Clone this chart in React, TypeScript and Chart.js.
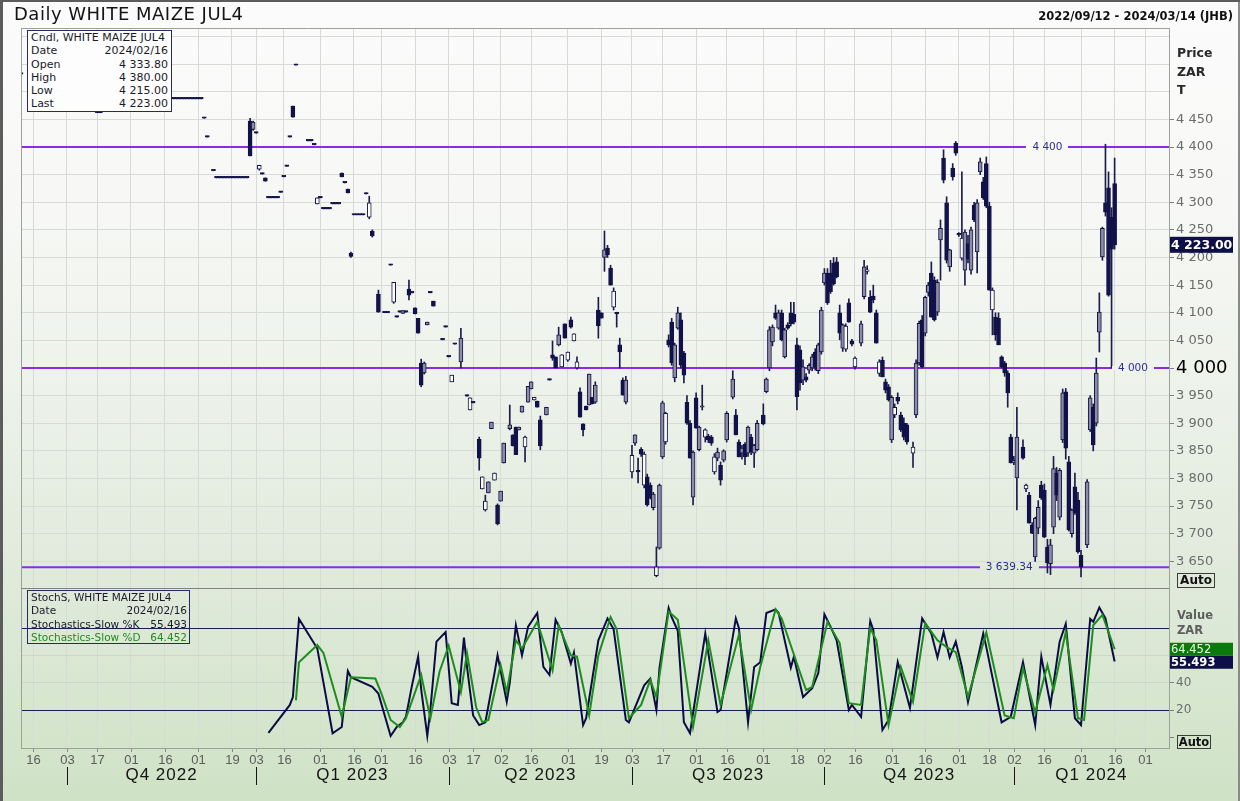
import React, { useEffect, useRef } from 'react';
import { Chart, registerables } from 'chart.js';

Chart.register(...registerables);

// ---------- calendar (trading sessions, JSE) ----------
const firstSession = '2022-09-12';
const lastSession = '2024-03-14';
const marketHolidays = [
  '2022-12-16', '2022-12-26', '2022-12-27', '2023-01-02', '2023-03-21', '2023-04-07',
  '2023-04-10', '2023-04-27', '2023-05-01', '2023-06-16', '2023-08-09', '2023-09-25',
  '2023-12-15', '2023-12-25', '2023-12-26', '2024-01-01',
];
const tickDaysOfMonth = [1, 16];
const quarterMonths = [1, 4, 7, 10];
const axisLastSession = 375.8;

// ---------- candles (session number counted from 2022-09-12) ----------
const candleDay = [
  0, 25, 26, 50, 51, 52, 53, 54, 55, 56,
  57, 58, 59, 60, 61, 63, 64, 65, 66, 67,
  68, 69, 70, 71, 72, 73, 74, 75, 76, 77,
  78, 79, 80, 81, 82, 83, 84, 85, 86, 87,
  88, 89, 90, 94, 95, 96, 97, 98, 99, 100,
  101, 102, 103, 104, 105, 106, 107, 108, 109, 110,
  111, 112, 113, 114, 115, 117, 119, 120, 121, 122,
  123, 124, 125, 126, 127, 128, 129, 130, 131, 132,
  133, 134, 135, 138, 139, 140, 141, 142, 144, 146,
  147, 148,
  150, 151, 152, 153, 154, 155, 156, 157, 158, 160,
  161, 162, 163, 164, 165, 166, 167, 168, 169, 170,
  172, 173, 174, 175, 176, 177, 178, 179, 180, 181,
  182, 183, 184, 185, 186, 187, 188, 189, 190, 191,
  192, 193, 194, 195, 196, 197, 198, 200, 201, 202,
  203, 204, 205, 206, 207, 208, 209, 210, 211, 212,
  213, 214, 215, 216, 217, 218, 219, 220, 221, 222,
  223, 224, 225, 226, 227, 228, 229, 230, 231, 233,
  234, 235, 236, 237, 238, 239, 240, 241, 243, 244,
  245, 246, 247, 248, 249, 250, 251, 252, 253, 254,
  255, 256, 257, 258, 259, 260, 261, 262, 263, 264,
  265, 266, 267, 268, 269, 270, 271, 272, 273, 275,
  276, 277, 278, 279, 280, 281, 282, 283, 284, 285,
  286, 287, 288, 289, 290, 292, 293, 294, 295, 296,
  297, 298, 299, 300, 301, 302, 303, 304, 305, 306,
  307, 308, 309, 310, 311, 312, 313, 314, 315, 316,
  317, 318, 319, 320, 321, 322, 323, 324, 325, 326,
  328, 329, 330, 331, 332, 333, 334, 335, 336, 337,
  338, 339, 340, 341, 342, 343, 344, 345, 346, 347,
  349, 350, 351, 352, 353, 354, 355, 356, 357, 358,
];
const candleOpen = [
  4532, 4462, 4462, 4487, 4487, 4487, 4487, 4487, 4487, 4487,
  4487, 4487, 4487, 4452, 4418, 4357, 4344, 4344, 4344, 4344,
  4344, 4344, 4344, 4344, 4344, 4344, 4344, 4447, 4432, 4425,
  4360, 4351, 4344, 4308, 4308, 4308, 4308, 4318, 4346, 4365,
  4418, 4474, 4548, 4411, 4411, 4404, 4297, 4308, 4288, 4288,
  4288, 4297, 4297, 4297, 4353, 4335, 4324, 4208, 4277, 4277,
  4277, 4277, 4315, 4273, 4248, 4134, 4100, 4100, 4186, 4119,
  4092, 4101, 4099, 4101, 4143, 4136, 4109, 4090, 4009, 3991,
  4078, 4136, 4121, 4051, 4074, 4020, 3975, 4043, 4011, 3949,
  3924, 3937,
  3871, 3781, 3743, 3774, 3890, 3797, 3752, 3759, 3828, 3890,
  3879, 3893, 3888, 3920, 3857, 3938, 3962, 3942, 3940, 3906,
  3915, 3978, 4024, 4020, 4042, 4002, 4080, 4014, 4087, 4049,
  4000, 3957, 3899, 3931, 3933, 3947, 3938, 4105, 4100, 4200,
  4217, 4181, 4110, 4100, 4042, 3978, 3938, 3812, 3864, 3815,
  3853, 3788, 3803, 3788, 3747, 3624, 3674, 3839, 3866, 4051,
  4083, 3982, 4072, 4087, 4027, 3938, 3900, 3766, 3946, 3852,
  3929, 3875, 3877, 3875, 3812, 3837, 3824, 3833, 3870, 3947,
  3915, 3866, 3846, 3862, 3846, 3875, 3846, 3852, 3915, 3957,
  4000, 4047, 4100, 4072, 4100, 4020, 4078, 4100, 4097, 4042,
  4033, 3978, 3984, 3996, 4000, 4029, 3995, 4029, 4154, 4172,
  4172, 4190, 4192, 4100, 4036, 4034, 4118, 4049, 4002, 4045,
  4129, 4175, 4128, 4130, 4100, 3990, 4014, 3975, 3966, 3870,
  3915, 3947, 3915, 3900, 3897, 3846, 3915, 4009, 4087, 4063,
  4137, 4172, 4159, 4101, 4232, 4380, 4299, 4183, 4362, 4407,
  4241, 4199, 4177, 4225, 4177, 4295, 4210, 4355, 4337, 4370,
  4293, 4105, 4092, 4090, 4020, 4009, 3991, 3875, 3828, 3801,
  3857, 3781, 3770, 3716, 3658, 3710, 3788, 3779, 3676, 3646,
  3712, 3810, 3730, 3870, 3957, 3830, 3700, 3785, 3761, 3661,
  3680, 3888, 3929, 3900, 4065, 4201, 4299, 4326, 4273, 4333.8,
];
const candleHigh = [
  4532, 4462, 4462, 4487, 4487, 4487, 4487, 4487, 4487, 4487,
  4487, 4487, 4487, 4452, 4418, 4357, 4344, 4344, 4344, 4344,
  4344, 4344, 4344, 4344, 4344, 4344, 4344, 4452, 4447, 4425,
  4367, 4351, 4344, 4308, 4308, 4308, 4308, 4318, 4346, 4365,
  4418, 4474, 4548, 4411, 4411, 4404, 4308, 4308, 4288, 4288,
  4288, 4297, 4297, 4297, 4353, 4335, 4324, 4210, 4277, 4277,
  4277, 4277, 4315, 4311, 4250, 4141, 4100, 4100, 4186, 4155,
  4092, 4101, 4104, 4101, 4159, 4136, 4109, 4090, 4016, 4011,
  4083, 4136, 4121, 4051, 4074, 4020, 3987, 4043, 4072, 3949,
  3946, 3937,
  3875, 3803, 3770, 3794, 3902, 3810, 3754, 3777, 3864, 3933,
  3879, 3893, 3893, 3931, 3877, 3967, 3975, 3947, 3940, 3913,
  3929, 3978, 4049, 4020, 4074, 4024, 4080, 4029, 4092, 4062,
  4020, 3964, 3899, 3931, 3989, 3947, 3975, 4128, 4100, 4248,
  4222, 4186, 4145, 4101, 4054, 3982, 3985, 3860, 3879, 3837,
  3856, 3848, 3808, 3792, 3775, 3676, 3790, 3940, 3920, 4060,
  4090, 4045, 4110, 4100, 4030, 3950, 3905, 3850, 3955, 3895,
  3969, 3890, 3880, 3878, 3845, 3855, 3830, 3852, 3921, 3995,
  3925, 3870, 3860, 3865, 3895, 3880, 3862, 3905, 3935, 3982,
  4075, 4078, 4114, 4105, 4105, 4072, 4082, 4119, 4119, 4054,
  4040, 4015, 3990, 4008, 4025, 4035, 4045, 4110, 4180, 4180,
  4195, 4200, 4200, 4114, 4080, 4080, 4125, 4052, 4020, 4085,
  4195, 4185, 4140, 4150, 4105, 4015, 4020, 3980, 3970, 3950,
  3935, 3955, 3920, 3910, 3900, 3866, 4015, 4085, 4095, 4130,
  4155, 4192, 4165, 4160, 4268, 4395, 4310, 4215, 4370, 4410,
  4245, 4355, 4250, 4240, 4255, 4300, 4305, 4380, 4345, 4382,
  4300, 4145, 4100, 4100, 4022, 4012, 3995, 3880, 3840, 3929,
  3870, 3790, 3775, 3720, 3730, 3760, 3795, 3790, 3690, 3690,
  3840, 3820, 3818, 3962, 3963, 3840, 3745, 3810, 3775, 3670,
  3798, 3950, 3935, 4018, 4136, 4255, 4405, 4355, 4290, 4380,
];
const candleLow = [
  4532, 4462, 4462, 4487, 4487, 4487, 4487, 4487, 4487, 4487,
  4487, 4487, 4487, 4452, 4418, 4357, 4344, 4344, 4344, 4344,
  4344, 4344, 4344, 4344, 4344, 4344, 4344, 4384, 4430, 4425,
  4358, 4351, 4338, 4308, 4308, 4308, 4308, 4318, 4346, 4365,
  4418, 4454, 4548, 4411, 4411, 4404, 4297, 4308, 4288, 4288,
  4288, 4297, 4297, 4297, 4346, 4335, 4317, 4200, 4277, 4277,
  4277, 4277, 4315, 4270, 4237, 4101, 4100, 4100, 4186, 4117,
  4092, 4101, 4099, 4101, 4123, 4136, 4098, 4063, 3966, 3989,
  4078, 4136, 4112, 4051, 4074, 4020, 3975, 4043, 4000, 3949,
  3924, 3937,
  3815, 3781, 3741, 3774, 3890, 3797, 3716, 3759, 3828, 3888,
  3859, 3843, 3888, 3920, 3830, 3938, 3962, 3942, 3929, 3852,
  3915, 3978, 4014, 4000, 4040, 4002, 4054, 4012, 4072, 4049,
  3998, 3911, 3877, 3924, 3933, 3935, 3936, 4054, 4090, 4175,
  4200, 4150, 4105, 4074, 4000, 3951, 3935, 3801, 3860, 3792,
  3840, 3783, 3750, 3763, 3743, 3622, 3672, 3836, 3862, 4038,
  4005, 3975, 4070, 4000, 3973, 3898, 3837, 3752, 3891, 3850,
  3924, 3866, 3865, 3860, 3808, 3832, 3788, 3830, 3866, 3944,
  3879, 3839, 3835, 3825, 3840, 3843, 3820, 3850, 3897, 3955,
  3995, 4040, 4088, 4070, 4049, 4018, 4070, 4076, 4080, 3924,
  3960, 3970, 3975, 3990, 3995, 3996, 3990, 4025, 4150, 4115,
  4135, 4150, 4163, 4051, 4030, 4030, 4083, 4040, 3998, 4040,
  4125, 4170, 4100, 4118, 4045, 3985, 3984, 3955, 3940, 3865,
  3910, 3935, 3885, 3870, 3862, 3820, 3910, 4005, 4000, 4058,
  4130, 4092, 4085, 4095, 4159, 4335, 4190, 4175, 4340, 4385,
  4238, 4195, 4150, 4190, 4170, 4265, 4172, 4350, 4305, 4290,
  4141, 4060, 4050, 4042, 4000, 3985, 3929, 3828, 3825, 3743,
  3835, 3776, 3719, 3700, 3650, 3700, 3762, 3693, 3629, 3626,
  3700, 3760, 3725, 3865, 3835, 3705, 3694, 3735, 3665, 3622,
  3675, 3885, 3850, 3895, 4029, 4195, 4275, 4130, 4000, 4215,
];
const candleClose = [
  4532, 4462, 4462, 4487, 4487, 4487, 4487, 4487, 4487, 4487,
  4487, 4487, 4487, 4452, 4418, 4357, 4344, 4344, 4344, 4344,
  4344, 4344, 4344, 4344, 4344, 4344, 4344, 4384, 4445, 4425,
  4367, 4351, 4338, 4308, 4308, 4308, 4308, 4318, 4346, 4365,
  4418, 4454, 4548, 4411, 4411, 4404, 4308, 4308, 4288, 4288,
  4288, 4297, 4297, 4297, 4346, 4335, 4317, 4202, 4277, 4277,
  4277, 4277, 4315, 4299, 4239, 4101, 4100, 4100, 4186, 4155,
  4092, 4101, 4104, 4101, 4132, 4136, 4098, 4063, 3969, 4009,
  4083, 4136, 4112, 4051, 4074, 4020, 3987, 4043, 4054, 3949,
  3946, 3937,
  3837, 3803, 3759, 3794, 3902, 3810, 3718, 3777, 3864, 3897,
  3859, 3843, 3893, 3931, 3875, 3967, 3975, 3947, 3929, 3859,
  3929, 3978, 4018, 4000, 4060, 4024, 4054, 4029, 4074, 4062,
  4011, 3911, 3888, 3924, 3989, 3935, 3969, 4076, 4090, 4214,
  4205, 4150, 4139, 4098, 4029, 3951, 3978, 3842, 3879, 3812,
  3844, 3844, 3752, 3765, 3772, 3640, 3788, 3937, 3918, 4042,
  4009, 4042, 4100, 4005, 3987, 3900, 3837, 3848, 3891, 3893,
  3931, 3888, 3870, 3864, 3839, 3848, 3797, 3850, 3918, 3980,
  3879, 3839, 3855, 3839, 3893, 3848, 3860, 3900, 3899, 3980,
  4069, 4074, 4090, 4100, 4051, 4069, 4072, 4080, 4083, 3948,
  3973, 4002, 3978, 4005, 4020, 4002, 4042, 4105, 4172, 4118,
  4138, 4152, 4165, 4063, 4078, 4076, 4083, 4043, 4018, 4080,
  4183, 4177, 4101, 4123, 4045, 4011, 3984, 3960, 3942, 3947,
  3929, 3940, 3888, 3875, 3866, 3857, 4009, 4081, 4002, 4128,
  4150, 4092, 4087, 4155, 4253, 4340, 4195, 4214, 4346, 4389,
  4241, 4235, 4246, 4197, 4250, 4268, 4299, 4373, 4308, 4293,
  4141, 4141, 4060, 4042, 4002, 3991, 3955, 3828, 3833, 3875,
  3837, 3788, 3719, 3701, 3728, 3748, 3765, 3694, 3647, 3680,
  3818, 3770, 3815, 3955, 3855, 3707, 3743, 3738, 3667, 3640,
  3794, 3946, 3861, 3991, 4101, 4253, 4282, 4132, 4215, 4223,
];

// ---------- slow stochastics (turning points) ----------
const stochKDay = [
  81, 88, 89, 91, 97, 102, 105, 107, 108, 115, 117, 121, 123, 125, 126, 128, 130, 131, 133, 134,
  136, 139, 141, 143, 145, 146, 148, 150, 152, 155, 156, 159, 160, 162, 164, 166, 169, 171, 173, 175,
  177, 180, 181, 184, 185, 189, 192, 194, 198, 199, 204, 206, 208, 209, 212, 213, 215, 217, 219, 224,
  228, 229, 234, 235, 238, 240, 242, 244, 247, 248, 252, 253, 256, 259, 261, 263, 265, 267, 271, 272,
  275, 278, 279, 282, 284, 287, 291, 295, 298, 300, 302, 304, 306, 308, 310, 315, 316, 321, 324, 328,
  332, 334, 337, 340, 342, 345, 347, 350, 351, 353, 355, 358,
];
const stochKValue = [
  3.2, 23.7, 29.5, 86.6, 65, 3, 7.6, 48.5, 44, 37, 32, 1, 7.6, 11, 15, 38, 59, 35, 1, 20,
  70, 77, 25, 23.7, 73, 51.5, 16, 9, 11, 47, 60, 26, 40, 82, 60, 81, 91, 51.5, 45.6, 86,
  77, 54, 62, 9, 14, 71, 87, 79, 12.7, 11, 38, 43, 20, 50.7, 94.6, 88, 78, 11, 3, 76,
  18.5, 20, 87, 80, 11, 51.5, 55, 91, 93.6, 91, 51, 59, 29.5, 36, 47, 90, 81, 71, 20, 23.7,
  15, 85, 78.5, 5.4, 12.7, 55, 21.5, 87, 76, 58.5, 77, 58.5, 70, 51.5, 26, 76, 66, 11, 15, 55,
  9, 59, 23.7, 70, 83, 14, 9, 86.6, 84.5, 95, 87, 55.493,
];
const stochDDay = [
  90, 91, 97, 99, 105, 108, 116, 118, 121, 124, 126, 131, 134, 137, 140, 144, 146, 149, 151, 153,
  157, 159, 162, 164, 169, 174, 176, 180, 182, 186, 189, 193, 195, 199, 203, 206, 208, 212, 215, 220,
  225, 229, 235, 239, 242, 247, 249, 254, 257, 259, 264, 268, 271, 275, 278, 280, 284, 288, 292, 296,
  300, 303, 306, 310, 316, 322, 325, 328, 332, 336, 338, 342, 346, 348, 351, 354, 358,
];
const stochDValue = [
  27, 55, 67.5, 61.7, 15, 44, 43, 32, 12.7, 7.6, 14, 45.6, 14, 48, 67, 33, 61.7, 22, 11, 12.7,
  53, 33, 71, 65, 84.5, 49, 82, 60, 59, 16, 60, 88, 79, 14, 23.7, 42, 29.5, 92, 86, 7.6,
  71, 23.7, 75, 20, 51.5, 93.6, 87, 54, 34.6, 37, 84.5, 69, 25, 23.7, 80, 71, 9, 51.5, 26, 83.6,
  71, 66, 62.4, 29.5, 76.8, 16, 14, 50.7, 18, 53, 34.6, 77, 14, 12.7, 82, 89.6, 64.452,
];

// ---------- axes / levels ----------
const priceTickValues = [
  3650, 3700, 3750, 3800, 3850, 3900, 3950, 4000, 4050, 4100,
  4150, 4200, 4250, 4300, 4350, 4400, 4450, 4500, 4550, 4600,
];
const priceLabelCeiling = 4450;
const stochTickValues = [0, 20, 40, 60, 80, 100];
const stochLabelled = [20, 40];
const stochBandLines = [20, 80];
const levelValues = [4400, 4000, 3639.34];

// ---------- styles ----------
const NAVY = '#12124a';
const GRAY_BODY = '#8c8ca4';
const PURPLE = '#8a2be6';
const GREEN = '#1f8c1f';
const UI_FONT = '"DejaVu Sans", Verdana, sans-serif';
const AXIS_FONT = '"Liberation Sans", Arial, sans-serif';

function fmt(v: number, dec: number): string {
  const s = v.toFixed(dec);
  const parts = s.split('.');
  const intPart = parts[0].replace(/\B(?=(\d{3})+(?!\d))/g, ' ');
  return parts.length > 1 ? intPart + '.' + parts[1] : intPart;
}

function buildSessions(): string[] {
  const hol = new Set(marketHolidays);
  const out: string[] = [];
  const d = new Date(firstSession + 'T00:00:00Z');
  const end = new Date(lastSession + 'T00:00:00Z');
  while (d.getTime() <= end.getTime()) {
    const wd = d.getUTCDay();
    const iso = d.toISOString().slice(0, 10);
    if (wd !== 0 && wd !== 6 && !hol.has(iso)) out.push(iso);
    d.setUTCDate(d.getUTCDate() + 1);
  }
  return out;
}

const sessions = buildSessions();
const iso = (y: number, m: number, d: number) =>
  `${y}-${String(m).padStart(2, '0')}-${String(d).padStart(2, '0')}`;
const sessionOnOrAfter = (s: string) => sessions.findIndex((x) => x >= s);

const dateTicks: { session: number; text: string }[] = [];
const quarterStarts: { session: number; text: string }[] = [];
for (let y = 2022; y <= 2024; y++) {
  for (let m = 1; m <= 12; m++) {
    for (const dd of tickDaysOfMonth) {
      const s = iso(y, m, dd);
      if (s < firstSession || s > lastSession) continue;
      const i = sessionOnOrAfter(s);
      if (i < 0 || i > axisLastSession) continue;
      if (!dateTicks.find((t) => t.session === i)) dateTicks.push({ session: i, text: sessions[i].slice(8, 10) });
    }
    if (quarterMonths.includes(m)) {
      const s = iso(y, m, 1);
      if (s < firstSession || s > lastSession) continue;
      const i = sessionOnOrAfter(s);
      if (i >= 0) quarterStarts.push({ session: i, text: `Q${(m - 1) / 3 + 1} ${y}` });
    }
  }
}

const lastIdx = candleDay.length - 1;
const lastOpen = candleOpen[lastIdx];
const lastHigh = candleHigh[lastIdx];
const lastLow = candleLow[lastIdx];
const lastClose = candleClose[lastIdx];
const lastDate = sessions[candleDay[lastIdx]].replace(/-/g, '/');
const lastK = stochKValue[stochKValue.length - 1];
const lastD = stochDValue[stochDValue.length - 1];

const overlayPlugin = {
  id: 'overlay',
  afterDatasetsDraw(chart: any, _a: any, opts: any) {
    const { ctx, chartArea, scales } = chart;
    const xs = scales.x;
    const ys = scales.y;
    const y2 = scales.y2;
    ctx.save();
    // level labels
    ctx.font = `10.5px ${UI_FONT}`;
    ctx.textAlign = 'center';
    ctx.textBaseline = 'middle';
    levelValues.forEach((v, k) => {
      const px = xs.getPixelForValue(opts.levelAnchors[k]);
      const py = ys.getPixelForValue(v);
      const txt = fmt(v, v % 1 === 0 ? 0 : 2);
      const w = ctx.measureText(txt).width + 12;
      ctx.clearRect(px - w / 2, py - 2, w, 4);
      ctx.fillStyle = '#2c2c9c';
      ctx.fillText(txt, px, py + 0.5);
    });
    // frame
    ctx.strokeStyle = '#9ca29a';
    ctx.lineWidth = 1;
    ctx.beginPath();
    ctx.moveTo(chartArea.left + 0.5, chartArea.top + 0.5);
    ctx.lineTo(chartArea.right, chartArea.top + 0.5);
    ctx.moveTo(chartArea.left + 0.5, chartArea.top);
    ctx.lineTo(chartArea.left + 0.5, chartArea.bottom);
    ctx.stroke();
    ctx.strokeStyle = '#7e857c';
    ctx.beginPath();
    ctx.moveTo(chartArea.left, ys.bottom + 0.5);
    ctx.lineTo(chartArea.right, ys.bottom + 0.5);
    ctx.stroke();
    // last price box
    const ly = ys.getPixelForValue(lastClose);
    ctx.fillStyle = '#0f0f48';
    ctx.fillRect(chartArea.right + 1, ly - 8, 63, 16);
    ctx.fillStyle = '#ffffff';
    ctx.font = `bold 12.5px ${UI_FONT}`;
    ctx.textAlign = 'left';
    ctx.fillText(fmt(lastClose, 2), chartArea.right + 2, ly + 0.5);
    // stochastic value boxes
    const gy = y2.getPixelForValue(lastD);
    let ny = y2.getPixelForValue(lastK);
    if (ny < gy + 13) ny = gy + 13;
    ctx.fillStyle = '#0a7a0a';
    ctx.fillRect(chartArea.right + 1, gy - 6.5, 63, 13);
    ctx.fillStyle = '#eaffea';
    ctx.font = `11.5px ${UI_FONT}`;
    ctx.fillText(lastD.toFixed(3), chartArea.right + 2, gy + 0.5);
    ctx.fillStyle = '#0f0f48';
    ctx.fillRect(chartArea.right + 1, ny - 6.5, 63, 13);
    ctx.fillStyle = '#ffffff';
    ctx.font = `bold 11.5px ${UI_FONT}`;
    ctx.fillText(lastK.toFixed(3), chartArea.right + 2, ny + 0.5);
    ctx.restore();
  },
  afterDraw(chart: any) {
    const { ctx, chartArea, scales } = chart;
    const xs = scales.x;
    const b = chartArea.bottom;
    ctx.save();
    ctx.font = `13px ${AXIS_FONT}`;
    ctx.textAlign = 'center';
    ctx.textBaseline = 'middle';
    dateTicks.forEach((t) => {
      const px = Math.round(xs.getPixelForValue(t.session));
      ctx.fillStyle = '#8a8a8a';
      ctx.fillRect(px, b + 1, 1, 3);
      ctx.fillStyle = '#5c5c5c';
      ctx.fillText(t.text, px + 0.5, b + 12);
    });
    ctx.font = `17px ${AXIS_FONT}`;
    try { ctx.letterSpacing = '1px'; } catch (e) { /* ignore */ }
    ctx.fillStyle = '#151515';
    quarterStarts.forEach((q, k) => {
      const x0 = xs.getPixelForValue(q.session);
      const nxt = k + 1 < quarterStarts.length ? quarterStarts[k + 1].session : axisLastSession;
      const x1 = xs.getPixelForValue(nxt);
      ctx.fillRect(Math.round(x0), b + 19, 1, 18);
      if (x1 - x0 > 80) ctx.fillText(q.text, (x0 + x1) / 2, b + 27);
    });
    try { ctx.letterSpacing = '0px'; } catch (e) { /* ignore */ }
    ctx.restore();
  },
};

export default function App() {
  const canvasRef = useRef<HTMLCanvasElement>(null);

  useEffect(() => {
    const canvas = canvasRef.current;
    if (!canvas) return;

    const bodyData = candleDay.map((d, i) => ({
      x: d,
      y: [Math.min(candleOpen[i], candleClose[i]), Math.max(candleOpen[i], candleClose[i])],
    }));
    const wickData = candleDay.map((d, i) => ({ x: d, y: [candleLow[i], candleHigh[i]] }));
    const bodyFill = candleDay.map((_, i) => {
      if (candleClose[i] > candleOpen[i]) {
        return i > 0 && candleClose[i] > candleClose[i - 1] ? GRAY_BODY : '#ffffff';
      }
      return NAVY;
    });

    const levelSets = levelValues.map((v) => ({
      type: 'line',
      data: [{ x: 0, y: v }, { x: axisLastSession, y: v }],
      yAxisID: 'y',
      borderColor: PURPLE,
      borderWidth: 2,
      pointRadius: 0,
      order: 4,
    }));

    const chart = new Chart(canvas, {
      type: 'bar',
      data: {
        datasets: [
          {
            type: 'line',
            label: 'Stochastics-Slow %D',
            data: stochDDay.map((d, i) => ({ x: d, y: stochDValue[i] })),
            yAxisID: 'y2',
            borderColor: GREEN,
            borderWidth: 2,
            pointRadius: 0,
            tension: 0,
            order: 0,
          },
          {
            type: 'line',
            label: 'Stochastics-Slow %K',
            data: stochKDay.map((d, i) => ({ x: d, y: stochKValue[i] })),
            yAxisID: 'y2',
            borderColor: '#0c0c44',
            borderWidth: 2,
            pointRadius: 0,
            tension: 0,
            order: 1,
          },
          {
            type: 'bar',
            label: 'body',
            data: bodyData,
            yAxisID: 'y',
            backgroundColor: bodyFill,
            borderColor: NAVY,
            borderWidth: 1,
            borderSkipped: false,
            barThickness: 4,
            minBarLength: 1.5,
            grouped: false,
            order: 2,
          },
          {
            type: 'bar',
            label: 'wick',
            data: wickData,
            yAxisID: 'y',
            backgroundColor: '#1c1c4a',
            barThickness: 1,
            minBarLength: 1,
            grouped: false,
            order: 3,
          },
          ...levelSets,
        ] as any,
      },
      options: {
        responsive: false,
        maintainAspectRatio: false,
        devicePixelRatio: 1,
        animation: false,
        events: [],
        layout: { padding: { left: 21, top: 28, right: 0, bottom: 53 } },
        plugins: {
          legend: { display: false },
          tooltip: { enabled: false },
          overlay: { levelAnchors: [336, 364, 323.5] },
        } as any,
        scales: {
          x: {
            type: 'linear',
            min: 0,
            max: axisLastSession,
            offset: false,
            grid: { color: '#d8dbd5', drawTicks: false, offset: false },
            border: { display: true, color: '#9ca29a' },
            ticks: { display: false },
            afterBuildTicks: (s: any) => { s.ticks = dateTicks.map((t) => ({ value: t.session })); },
            afterFit: (s: any) => { s.height = 0; },
          },
          y: {
            type: 'linear',
            position: 'right',
            stack: 'panes',
            stackWeight: 560,
            min: 3601.8,
            max: 4615.4,
            afterBuildTicks: (s: any) => { s.ticks = priceTickValues.map((v) => ({ value: v })); },
            afterFit: (s: any) => { s.width = 71; },
            grid: {
              color: '#d8dbd5',
              tickLength: 5,
              tickColor: (c: any) => (c.tick && c.tick.value <= priceLabelCeiling ? '#808080' : 'rgba(0,0,0,0)'),
            },
            border: { display: true, color: '#9ca29a' },
            ticks: {
              autoSkip: false,
              padding: 2,
              callback: (v: any) => (v <= priceLabelCeiling ? fmt(Number(v), 0) : ''),
              color: (c: any) => (c.tick && c.tick.value === 4000 ? '#000000' : '#6c6c6c'),
              font: (c: any) => (c.tick && c.tick.value === 4000
                ? { family: UI_FONT, size: 18 }
                : { family: UI_FONT, size: 13 }),
            },
          },
          y2: {
            type: 'linear',
            position: 'right',
            stack: 'panes',
            stackWeight: 160,
            min: -7.8,
            max: 109.27,
            afterBuildTicks: (s: any) => { s.ticks = stochTickValues.map((v) => ({ value: v })); },
            afterFit: (s: any) => { s.width = 71; },
            grid: {
              color: (c: any) => {
                const v = c.tick && c.tick.value;
                if (stochBandLines.includes(v)) return '#1c1c50';
                if (v === 40 || v === 60) return '#cdd6c8';
                return 'rgba(0,0,0,0)';
              },
              tickLength: 5,
              tickColor: (c: any) => (c.tick && [0, 20, 40].includes(c.tick.value) ? '#808080' : 'rgba(0,0,0,0)'),
            },
            border: { display: true, color: '#9ca29a' },
            ticks: {
              autoSkip: false,
              padding: 2,
              color: '#6c6c6c',
              font: { family: UI_FONT, size: 12 },
              callback: (v: any) => (stochLabelled.includes(Number(v)) ? String(v) : ''),
            },
          },
        } as any,
      },
      plugins: [overlayPlugin],
    });

    return () => chart.destroy();
  }, []);

  const abs = (s: any) => ({ position: 'absolute' as const, ...s });
  const row = { display: 'flex', justifyContent: 'space-between', whiteSpace: 'nowrap' as const, height: 13.3 };

  return (
    <div
      style={{
        position: 'absolute', left: 0, top: 0, width: 1240, height: 801, overflow: 'hidden',
        background: 'linear-gradient(180deg, #fbfbfb 0%, #f7f8f6 25%, #edf2ea 48%, #e0eadb 72%, #d6e6cf 88%, #cfe2c5 100%)',
        boxShadow: 'inset 3px 2px 0 #5c5c5c, inset -2px 0 0 #8a8a8a',
        fontFamily: UI_FONT, color: '#111',
      }}
    >
      <canvas ref={canvasRef} width={1240} height={801} style={{ position: 'absolute', left: 0, top: 0, width: 1240, height: 801 }} />

      <div style={abs({ left: 14, top: 3, fontSize: 18, lineHeight: '22px', letterSpacing: 0.5, color: '#141414' })}>
        Daily WHITE MAIZE JUL4
      </div>
      <div style={abs({ right: 7, top: 9, fontSize: 11.5, lineHeight: '14px', fontWeight: 'bold', color: '#111' })}>
        2022/09/12 - 2024/03/14 (JHB)
      </div>

      <div style={abs({ left: 27, top: 30, width: 145, height: 82, boxSizing: 'border-box', border: '1px solid #2a2a62', background: '#fdfdfd', padding: '0 3px', fontSize: 11, lineHeight: '13.3px', color: '#1a1a2a' })}>
        <div style={row}><span>Cndl, WHITE MAIZE JUL4</span></div>
        <div style={row}><span>Date</span><span>{lastDate}</span></div>
        <div style={row}><span>Open</span><span>{fmt(lastOpen, 2)}</span></div>
        <div style={row}><span>High</span><span>{fmt(lastHigh, 2)}</span></div>
        <div style={row}><span>Low</span><span>{fmt(lastLow, 2)}</span></div>
        <div style={row}><span>Last</span><span>{fmt(lastClose, 2)}</span></div>
      </div>

      <div style={abs({ left: 27, top: 590, width: 163, height: 54, boxSizing: 'border-box', border: '1px solid #2a2a62', padding: '0 2px 0 3px', fontSize: 10.5, lineHeight: '13.3px', color: '#1a1a2a' })}>
        <div style={row}><span>StochS, WHITE MAIZE JUL4</span></div>
        <div style={row}><span>Date</span><span>{lastDate}</span></div>
        <div style={row}><span>Stochastics-Slow %K</span><span>{lastK.toFixed(3)}</span></div>
        <div style={{ ...row, color: GREEN }}><span>Stochastics-Slow %D</span><span>{lastD.toFixed(3)}</span></div>
      </div>

      <div style={abs({ left: 1177, top: 46, fontSize: 12.5, lineHeight: '14px', fontWeight: 'bold', color: '#2a2a2a' })}>Price</div>
      <div style={abs({ left: 1177, top: 65, fontSize: 12.5, lineHeight: '14px', fontWeight: 'bold', color: '#2a2a2a' })}>ZAR</div>
      <div style={abs({ left: 1177, top: 83, fontSize: 12.5, lineHeight: '14px', fontWeight: 'bold', color: '#2a2a2a' })}>T</div>
      <div style={abs({ left: 1177, top: 573, width: 38, height: 15, boxSizing: 'border-box', border: '1px solid #3a3a3a', fontSize: 12, lineHeight: '13px', fontWeight: 'bold', textAlign: 'center', color: '#111' })}>Auto</div>

      <div style={abs({ left: 1177, top: 608, fontSize: 11.5, lineHeight: '14px', fontWeight: 'bold', color: '#5e5e5e' })}>Value</div>
      <div style={abs({ left: 1177, top: 623, fontSize: 11.5, lineHeight: '14px', fontWeight: 'bold', color: '#5e5e5e' })}>ZAR</div>
      <div style={abs({ left: 1177, top: 735, width: 34, height: 14, boxSizing: 'border-box', border: '1px solid #3a3a3a', fontSize: 11.5, lineHeight: '12px', fontWeight: 'bold', textAlign: 'center', color: '#111' })}>Auto</div>
    </div>
  );
}
